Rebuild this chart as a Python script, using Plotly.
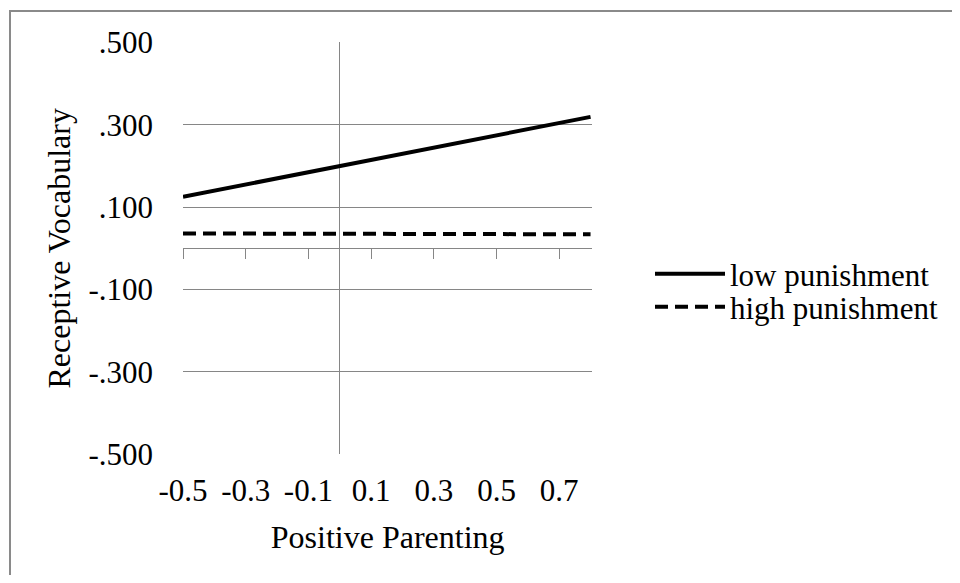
import plotly.graph_objects as go

# Data
x_vals = [-0.5, 0.8]
low_punishment = [0.125, 0.319]
high_punishment = [0.036, 0.034]
series_names = ["low punishment", "high punishment"]

x_tick_vals = [-0.5, -0.3, -0.1, 0.1, 0.3, 0.5, 0.7]
x_tick_text = ["-0.5", "-0.3", "-0.1", "0.1", "0.3", "0.5", "0.7"]
y_tick_vals = [0.5, 0.3, 0.1, -0.1, -0.3, -0.5]
y_tick_text = [".500", ".300", ".100", "-.100", "-.300", "-.500"]

FONT = "Liberation Serif"
GRID = "#868686"
BORDER = "#8a8a8a"
TICK_SIZE = 31
TITLE_SIZE = 32
LEGEND_SIZE = 31

# page offset introduced by the default body margin of the html page
OFF = 8
# figure size chosen so that the page does not overflow the 960x583 window
W, H = 960 - 2 * OFF, 583 - 2 * OFF
# figure margins: the outer plotting area starts just inside the chart border
ML, MT = 3, 4
AL, AT = OFF + ML, OFF + MT            # page coords of outer area top-left
AW, AH = W - ML, H - MT                # outer area size

# target inner plot-area edges in page pixels
PL, PR, PT, PB = 183, 592.3, 42.3, 454.3


def px(page_x):
    return (page_x - AL) / AW


def py(page_y):
    return 1 - (page_y - AT) / AH


fig = go.Figure()
fig.add_trace(go.Scatter(x=x_vals, y=low_punishment, mode="lines", name=series_names[0],
                         line=dict(color="black", width=4), legend="legend"))
fig.add_trace(go.Scatter(x=x_vals, y=high_punishment, mode="lines", name=series_names[1],
                         line=dict(color="black", width=4, dash="13px,7px"), legend="legend2"))
# activates the overlay axis drawn at y = 0
fig.add_trace(go.Scatter(x=[None], y=[None], xaxis="x2", showlegend=False, hoverinfo="skip"))
# activates the frame axes that draw the chart border (top and left)
fig.add_trace(go.Scatter(x=[None], y=[None], xaxis="x3", yaxis="y3",
                         showlegend=False, hoverinfo="skip"))

legend_common = dict(xanchor="left", yanchor="middle",
                     font=dict(family=FONT, size=LEGEND_SIZE, color="black"),
                     itemwidth=70, bgcolor="rgba(0,0,0,0)", borderwidth=0)

x_dom = [px(PL), px(PR)]
y_dom = [py(PB), py(PT)]

fig.update_layout(
    width=W, height=H,
    margin=dict(l=ML, r=0, t=MT, b=0, pad=0, autoexpand=False),
    paper_bgcolor="white", plot_bgcolor="rgba(0,0,0,0)",
    font=dict(family=FONT, size=TICK_SIZE, color="black"),
    showlegend=True,
    legend=dict(x=px(650), y=py(274), **legend_common),
    legend2=dict(x=px(650), y=py(307), **legend_common),
    xaxis=dict(domain=x_dom, anchor="y", range=[-0.5, 0.8056],
               tickvals=x_tick_vals, ticktext=x_tick_text,
               showgrid=False, zeroline=True, zerolinecolor=GRID, zerolinewidth=1,
               showline=False, ticks="", ticklabelstandoff=15, automargin=False,
               tickfont=dict(family=FONT, size=TICK_SIZE),
               title=dict(text="Positive Parenting", standoff=18,
                          font=dict(family=FONT, size=TITLE_SIZE))),
    xaxis2=dict(range=[-0.5, 0.8056], overlaying="x", anchor="free",
                position=py((PT + PB) / 2), side="bottom",
                tickvals=x_tick_vals, showticklabels=False,
                ticks="outside", ticklen=10, tickcolor=GRID, tickwidth=1, automargin=False,
                showline=True, linecolor=GRID, linewidth=1, showgrid=False, zeroline=False),
    yaxis=dict(domain=y_dom, anchor="x", range=[-0.5, 0.5],
               tickvals=y_tick_vals, ticktext=y_tick_text,
               showgrid=True, gridcolor=GRID, gridwidth=1, zeroline=False,
               showline=False, ticks="", ticklabelstandoff=29, automargin=False,
               tickfont=dict(family=FONT, size=TICK_SIZE),
               title=dict(text="Receptive Vocabulary", standoff=8,
                          font=dict(family=FONT, size=TITLE_SIZE))),
    xaxis3=dict(domain=[0, 1], anchor="y3", side="top", range=[0, 1],
                showline=True, linecolor=BORDER, linewidth=2, mirror=False,
                showticklabels=False, ticks="", showgrid=False, zeroline=False,
                automargin=False, fixedrange=True),
    yaxis3=dict(domain=[0, 1], anchor="x3", side="left", range=[0, 1],
                showline=True, linecolor=BORDER, linewidth=2, mirror=False,
                showticklabels=False, ticks="", showgrid=False, zeroline=False,
                automargin=False, fixedrange=True),
)

fig.write_html("out.html")
